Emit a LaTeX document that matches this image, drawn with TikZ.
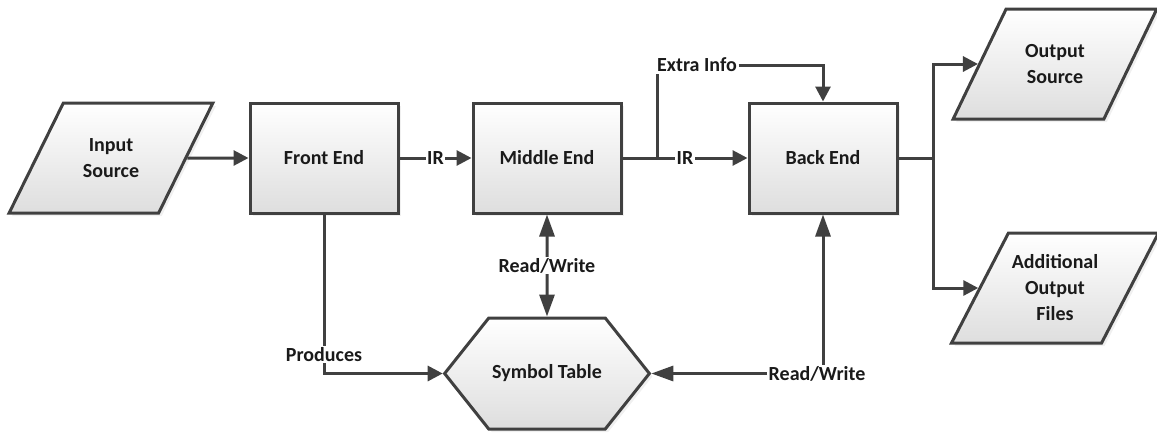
\documentclass[tikz,border=0pt]{standalone}
\usepackage{fontspec}
\setmainfont{Carlito}
\usepackage{xcolor}
\usetikzlibrary{arrows.meta,positioning,shapes.geometric,shapes.symbols,shadows}
\definecolor{edge}{HTML}{404040}
\definecolor{ink}{HTML}{1A1A1A}

\begin{document}
\begin{tikzpicture}[x=1pt, y=-1pt,
  box/.style={draw=edge, line width=3pt, top color=white, bottom color=black!13,
    drop shadow={shadow xshift=3pt, shadow yshift=-3pt, opacity=0.12},
    text=ink, font=\fontsize{20}{26}\selectfont\bfseries, align=center},
  proc/.style={box, minimum width=148pt, minimum height=110pt},
  io/.style={box, trapezium, trapezium left angle=52, trapezium right angle=128,
    trapezium stretches=true, minimum width=204pt, minimum height=110pt},
  tbl/.style={box, signal, signal to=east and west, signal pointer angle=103,
    minimum width=204pt, minimum height=111pt},
  wire/.style={draw=edge, line width=3pt},
  arr/.style={wire, -{Triangle[length=15pt, width=15pt]}},
  both/.style={wire, {Triangle[length=22pt, width=15pt]}-{Triangle[length=22pt, width=15pt]}},
  lab/.style={fill=white, inner sep=1.5pt, text=ink, font=\fontsize{20}{24}\selectfont\bfseries},
]
\useasboundingbox (0,0) rectangle (1157,432);
\node[io] (insrc) at (111,158) {Input\\Source};
\node[proc] (front) at (324,158) {Front End};
\node[proc, right=72pt of front] (middle) {Middle End};
\node[proc, right=125pt of middle] (back) {Back End};
\node[io] (outsrc) at (1055,64) {Output\\Source};
\node[io] (addout) at (1055,288) {Additional\\Output\\Files};
\node[tbl, below=102pt of middle] (symtab) {Symbol Table};
\node[lab] (extra) at (697,65) {Extra Info};
\coordinate[right=35pt of middle] (j1);
\coordinate[right=35pt of back] (j2);
% main flow
\draw[arr] (insrc) -- (front);
\draw[arr] (front) -- node[lab]{IR} (middle);
\draw[arr] (middle) -- node[lab]{IR} (back);
\draw[wire] (j1) -- (j1 |- extra.south);
\draw[arr] (extra) -| (back);
\draw[wire] (back) -- (j2);
\draw[arr] (j2) |- (outsrc);
\draw[arr] (j2) |- (addout);
% symbol table
\draw[both] (middle) -- node[lab]{Read/Write} (symtab);
\draw[arr] (front) |- node[lab, pos=0.44]{Produces} (symtab);
\draw[both] (symtab) -| node[lab, xshift=-6pt]{Read/Write} (back);
\end{tikzpicture}
\end{document}
